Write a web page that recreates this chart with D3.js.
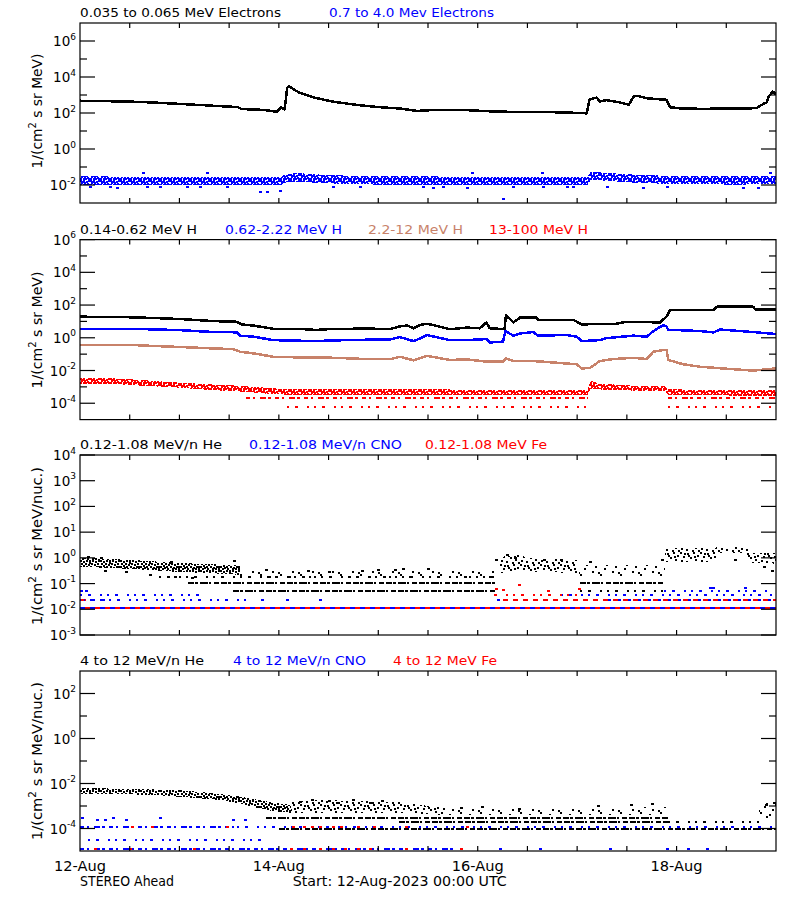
<!DOCTYPE html>
<html><head><meta charset="utf-8">
<script src="https://cdn.jsdelivr.net/npm/d3@7"></script>
<style>
body{margin:0;background:#fff;}
text{font-family:"DejaVu Sans",sans-serif;}
</style></head><body>
<svg id="chart" width="800" height="900" style="background:#fff"></svg>
<script>
// ---------------- DATA (hours since 12-Aug-2023 00:00 UTC) ----------------
const xTickLabels = ["12-Aug", "14-Aug", "16-Aug", "18-Aug"];
const xTickHours = [0, 48, 96, 144];
const footLeft = "STEREO Ahead";
const footMid = "Start: 12-Aug-2023 00:00 UTC";
const unitLabel1 = ["1/(cm", "2", " s sr MeV)"];
const unitLabel2 = ["1/(cm", "2", " s sr MeV/nuc.)"];

// Panel 1
const p1Titles = ["0.035 to 0.065 MeV Electrons", "0.7 to 4.0 Mev Electrons"];
const p1MajorExp = [6, 4, 2, 0, -2];
const p1MinorExp = [5, 3, 1, -1];
const elecLow = [[0,480],[6,455],[12,430],[18,380],[24,320],[30,270],[36,225],[38,218],[39,166],[44,150],[47.5,118],[48.5,200],[49.4,160],[50,2400],[50.4,3200],[52,1800],[53,1350],[56.3,740],[61,430],[65,320],[69.2,245],[73,205],[77.2,178],[81.3,130],[85,145],[93,145],[101,118],[109,115],[117,108],[122.3,96],[123,575],[124,650],[124.7,710],[125.5,440],[127,520],[130,400],[132.5,290],[133.6,810],[134.5,900],[137,650],[141.6,540],[142.4,210],[145,180],[150,170],[155,175],[160,180],[163.3,185],[164.1,245],[164.9,316],[165.8,390],[166.2,800],[166.6,1000],[167.2,1550],[168,1100]];
const elecHighBand = [[0,0.010,0.030],[20,0.010,0.029],[40,0.0098,0.028],[48.5,0.0098,0.028],[49.8,0.014,0.042],[53,0.015,0.045],[58,0.013,0.038],[66,0.011,0.032],[80,0.010,0.030],[100,0.0098,0.029],[122.5,0.0098,0.029],[123.3,0.020,0.055],[127,0.017,0.047],[135,0.013,0.036],[145,0.011,0.031],[160,0.0105,0.030],[168,0.012,0.033]];
const elecHighOut = [[2.4,0.0075],[7.2,0.008],[8.9,0.0072],[16.1,0.0078],[19.3,0.0074],[25.8,0.008],[29,0.0076],[35.4,0.0079],[43.4,0.0043],[45.1,0.0043],[48.3,0.0045],[61.1,0.0078],[67.6,0.0076],[82.9,0.0074],[85.3,0.0068],[87.7,0.0077],[93.3,0.0072],[102.2,0.0016],[104.6,0.0079],[111.8,0.0075],[117.5,0.0078],[119.1,0.0073],[127.1,0.0076],[136,0.0068],[141.6,0.0079],[160.1,0.0072],[163.7,0.0068],[15.3,0.045],[30.6,0.045],[94.5,0.044],[111.4,0.045],[166.6,0.046]];

// Panel 2
const p2Titles = ["0.14-0.62 MeV H", "0.62-2.22 MeV H", "2.2-12 MeV H", "13-100 MeV H"];
const p2MajorExp = [6, 4, 2, 0, -2, -4];
const p2MinorExp = [5, 3, 1, -1, -3];
const hLow = [[0,19.5],[13,17.8],[24,14.1],[32,10.5],[37.8,9.5],[39,6.6],[42,5.5],[46.7,3.5],[53,3.5],[57,3.0],[61,3.5],[69,3.6],[75,3.5],[77.2,5.0],[79,5.6],[80.5,3.8],[82,6.0],[83.7,7.2],[85.3,6.0],[89.3,3.3],[93.3,4.2],[96.5,3.8],[98.1,8.7],[98.9,3.8],[101.4,3.5],[102.5,3.6],[102.8,24],[104.6,8.7],[106.2,17],[110.2,17],[110.6,12.3],[119.1,12.3],[121.1,6.6],[129.5,7.2],[131.9,9.5],[140,8.7],[141.6,20],[142.4,50],[152.9,50],[153.7,79],[162.5,79],[163,55],[168,55]];
const hMid = [[0,3.5],[13,3.5],[24,2.95],[30.6,2.35],[37.8,2.15],[38.6,1.35],[41.8,1.17],[46.7,0.72],[53.1,0.66],[57.1,0.63],[61.1,0.69],[69.2,0.76],[75,0.8],[77.2,1.1],[80.5,0.63],[82.1,0.91],[83.7,1.48],[89.3,0.72],[93.3,0.72],[98.1,0.83],[98.9,0.52],[102.1,0.58],[102.7,2.57],[104.6,1.35],[106.2,1.82],[109.4,2.24],[110.6,1.35],[117.5,1.48],[119.9,1.17],[121.1,0.63],[125.5,0.72],[127.1,0.95],[133.6,1.35],[136.8,1.17],[138.4,2.57],[140.8,6.0],[141.6,4.8],[142,3.1],[149.7,2.57],[152.9,2.15],[154.5,3.2],[162.5,2.24],[168,1.7]];
const hHigh = [[0,0.36],[13,0.36],[16,0.33],[24,0.275],[32,0.224],[37,0.204],[38.6,0.141],[41.8,0.112],[46.7,0.069],[53.1,0.063],[61.1,0.060],[69.2,0.050],[75,0.050],[77.2,0.069],[80.5,0.042],[83.7,0.079],[89.3,0.044],[93.3,0.048],[98.1,0.035],[102.1,0.035],[102.9,0.055],[104.6,0.038],[109.4,0.038],[113.5,0.032],[119.9,0.024],[121.1,0.0135],[123,0.014],[125.5,0.038],[128.7,0.050],[133.6,0.060],[136.8,0.050],[138.4,0.141],[140.8,0.178],[141.6,0.178],[142,0.044],[145.6,0.024],[149.7,0.017],[157.7,0.012],[162.5,0.0098],[168,0.0135]];
const hTopBand = [[0,0.0016,0.0035],[8,0.0015,0.0033],[13,0.00126,0.0028],[24,0.00089,0.0018],[32,0.00063,0.0014],[40,0.0005,0.00112],[47,0.00035,0.0008],[55,0.00032,0.0007],[80,0.00032,0.0007],[100,0.0003,0.00068],[122.5,0.0003,0.00068],[123.3,0.0008,0.0025],[125,0.0007,0.0016],[133,0.0006,0.0012],[141,0.00056,0.0011],[142,0.00032,0.0007],[168,0.00028,0.00063]];
const hTopRowsDense = [[0.00022,40,122.5],[0.00022,142,168]];
const hTopRowsSparse = [[0.000063,50,122.5],[0.000063,142,168]];

// Panel 3
const p3Titles = ["0.12-1.08 MeV/n He", "0.12-1.08 MeV/n CNO", "0.12-1.08 MeV Fe"];
const p3MajorExp = [4, 3, 2, 1, 0, -1, -2, -3];
const p3MinorExp = [];
const p3HeBandDense = [[0,0.45,1.0],[8,0.4,0.9],[14,0.36,0.8],[24,0.28,0.63],[32,0.25,0.56],[38.6,0.22,0.5]];
const p3HeBandMedium = [[101.4,0.25,1.0],[103,0.3,1.2],[106,0.35,1.3],[108,0.3,1.0],[120,0.25,0.8],null,[141.2,0.7,2.3],[153,0.7,2.4],[154,1.5,2.7],[161,1.5,2.7],[162,0.62,1.5],[168,0.6,1.5]];
const p3HeBandSparse = [[38.6,0.16,0.35],[100.6,0.16,0.35],null,[120.5,0.19,0.52],[141.2,0.19,0.52]];
const p3HeRowsDense = [[0.11,26,100.6],[0.052,37,100.6],[0.11,120.7,140.8]];
const p3HeRowsSparse = [[0.18,19,100.6],[0.052,120.7,140.8]];
const p3HeOut = [[2,1.05],[5,0.95],[22,0.7],[37.2,0.75],[45,0.35],[55,0.3],[60,0.28],[68,0.3],[72,0.33],[76,0.33],[78,0.38],[84,0.36],[100.3,0.8],[103,1.3],[105,0.95],[112,0.85],[116,0.85],[123,0.7],[140.5,0.85],[6,0.3],[11,0.28],[17,0.22],[23,0.18],[27,0.17],[158,0.8],[165,0.45],[167,0.3]];
const p3CnoRowsDense = [[0.0115,0,168],[0.024,0,7],[0.024,127,168]];
const p3CnoRowsSparse = [[0.024,7,41],[0.035,0,30],[0.035,116,167],[0.051,141,167]];
const p3CnoPts = [[0.3,0.05],[1.5,0.05],[152,0.07],[152.8,0.07],[160.5,0.07],[44,0.024],[50,0.024],[58,0.024],[101,0.024],[110,0.024]];
const p3FeRowsDense = [[0.0115,0,168],[0.024,0,1.5],[0.024,101,168]];
const p3FeRowsSparse = [[0.035,99,120]];
const p3FePts = [[100.5,0.06],[102,0.055],[106,0.085],[113,0.05],[120.4,0.06],[0.5,0.024]];

// Panel 4
const p4Titles = ["4 to 12 MeV/n He", "4 to 12 MeV/n CNO", "4 to 12 MeV Fe"];
const p4MajorExp = [2, 0, -2, -4];
const p4MinorExp = [1, -1, -3];
const p4HeBandDense = [[0,0.0033,0.0062],[13,0.0033,0.0058],[24,0.0026,0.005],[33,0.0019,0.0036],[38.6,0.0013,0.0026],[45,0.00066,0.0016],[51,0.00047,0.0011]];
const p4HeBandMedium = [[51,0.0005,0.0017],[60,0.0005,0.0018],[77,0.0005,0.0015],[88,0.0004,0.0008]];
const p4HeBandSparse = [[88,0.0004,0.0008],[121,0.0004,0.0008],[142,0.0004,0.0009],null,[164,0.0003,0.0013],[168,0.0003,0.0013]];
const p4HeRowsDense = [[0.00028,45,142],[0.0002,77,142],[0.0001,48,168]];
const p4HeRowsSparse = [[0.0002,142,164]];
const p4HeOut = [[53,0.0015],[56,0.0019],[60,0.0017],[62,0.0013],[66,0.0018],[70,0.0014],[73,0.0016],[92,0.0008],[97,0.0009],[106,0.0007],[125,0.001],[133,0.0011],[138,0.0012],[165.5,0.0011],[167.5,0.0014]];
const p4CnoRowsDense = [[0.000012,0,91],[0.00012,0,38]];
const p4CnoRowsSparse = [[0.00012,38,168],[0.00003,2,45]];
const p4CnoPts = [[0.4,0.00028],[4,0.00025],[6,0.00025],[8,0.00028],[11,0.00025],[19.3,0.00028],[37,0.00024],[39.8,0.00024],[101.4,0.000012],[111,0.000012],[127.9,0.000012],[141.6,0.000012],[146.8,0.000012],[151.3,0.000012]];
const p4FePts = [[12.5,0.00012],[17.3,0.00012],[35.4,0.00012],[51.5,0.00012],[54,0.00012],[56,0.00012],[58,0.00012],[61,0.00012],[63,0.00012],[67,0.00012],[70.9,0.00012],[78.8,0.00012],[93.3,0.00012],[3.6,0.000012],[12,0.000012],[27.4,0.000012],[51,0.000012],[54,0.000012],[58,0.000012],[61,0.000012],[64,0.000012],[67,0.000012],[70,0.000012],[78.8,0.000012],[92,0.000012]];

// ---------------- DRAWING ----------------
const svg = d3.select("#chart");
const defs = svg.append("defs");
const X0 = 80, X1 = 776, PH = 180;
const t0 = new Date(Date.UTC(2023, 7, 12));
const t1 = new Date(Date.UTC(2023, 7, 19));
const T = h => new Date(t0.getTime() + h * 3600000);
const x = d3.scaleUtc().domain([t0, t1]).range([X0, X1]);
const colors = {black: "#000000", blue: "#0000ff", red: "#ff0000", tan: "#c8826a"};
// speckle textures (hand-placed 2x2 dots in a tile)
const tiles = {
  heavy: {w: 10, h: 6, r: [[0,0],[3,0],[6,1],[8,0],[1,2],[4,2],[7,3],[0,4],[3,4],[5,4],[8,4],[2,1]]},
  dense: {w: 20, h: 10, r: [[0,0],[3,1],[6,0],[9,2],[12,0],[15,1],[18,0],[1,3],[5,3],[8,4],[11,3],[14,4],[17,3],[0,6],[3,5],[6,6],[10,6],[13,7],[16,6],[18,6],[2,8],[7,8],[12,8],[15,8],[18,8],[9,0],[4,7]]},
  medium: {w: 20, h: 12, r: [[0,0],[7,1],[13,0],[17,3],[3,4],[10,5],[15,7],[1,8],[6,9],[12,10],[18,10],[8,3],[4,1],[14,4]]},
  sparse: {w: 20, h: 14, r: [[0,0],[9,2],[15,6],[4,8],[12,11],[18,12],[6,4]]}
};
for (const [cn, cv] of Object.entries(colors)) {
  for (const [tn, tv] of Object.entries(tiles)) {
    const p = defs.append("pattern").attr("id", `pat-${cn}-${tn}`)
      .attr("patternUnits", "userSpaceOnUse").attr("width", tv.w).attr("height", tv.h);
    p.selectAll("rect").data(tv.r).join("rect")
      .attr("x", d => d[0]).attr("y", d => d[1]).attr("width", 2).attr("height", 2).attr("fill", cv);
  }
}

function drawLine(m, y, data, c) {
  const ln = d3.line().x(d => x(T(d[0]))).y(d => y(d[1]));
  m.append("path").datum(data).attr("d", ln).attr("fill", "none")
    .attr("stroke", colors[c]).attr("stroke-width", 2.5).attr("stroke-linejoin", "round");
}
function drawBand(m, y, data, c, tile) {
  const ar = d3.area().defined(d => d !== null).x(d => x(T(d[0]))).y0(d => y(d[1])).y1(d => y(d[2]));
  m.append("path").datum(data).attr("d", ar).attr("fill", `url(#pat-${c}-${tile})`);
}
function drawRows(m, y, rows, c, dash, off) {
  m.append("g").selectAll("line").data(rows).join("line")
    .attr("x1", d => x(T(d[1]))).attr("x2", d => x(T(d[2])))
    .attr("y1", d => y(d[0])).attr("y2", d => y(d[0]))
    .attr("stroke", colors[c]).attr("stroke-width", 2)
    .attr("stroke-dasharray", dash).attr("stroke-dashoffset", off);
}
function drawPts(m, y, pts, c) {
  m.append("g").selectAll("rect").data(pts).join("rect")
    .attr("x", d => x(T(d[0])) - 1).attr("y", d => y(d[1]) - 1)
    .attr("width", 3).attr("height", 2).attr("fill", colors[c]);
}
const DENSE_ROW = "6 1 3 2 8 1 2 3 5 2";
const MID_ROW = "4 3 2 5 6 2 3 4";
const SPARSE_ROW = "2 6 3 9 2 5";

const panels = [
  {top: 23, domain: [1e-3, 1e7], majors: p1MajorExp, minors: p1MinorExp, titles: p1Titles,
   titleX: [80, 329], titleW: [201, 165], titleC: ["black", "blue"], unit: unitLabel1, unitLen: 115, unitY: 111,
   draw: (m, y) => {
     drawLine(m, y, elecLow, "black");
     drawBand(m, y, elecHighBand, "blue", "heavy");
     drawPts(m, y, elecHighOut, "blue");
   }},
  {top: 239.6, domain: [1e-5, 1e6], majors: p2MajorExp, minors: p2MinorExp, titles: p2Titles,
   titleX: [80, 225, 368, 489], titleW: [117, 117, 95, 99], titleC: ["black", "blue", "tan", "red"], unit: unitLabel1, unitLen: 117, unitY: 330,
   draw: (m, y) => {
     drawLine(m, y, hLow, "black");
     drawLine(m, y, hMid, "blue");
     drawLine(m, y, hHigh, "tan");
     drawBand(m, y, hTopBand, "red", "heavy");
     drawRows(m, y, hTopRowsDense, "red", MID_ROW, 0);
     drawRows(m, y, hTopRowsSparse, "red", SPARSE_ROW, 0);
   }},
  {top: 455, domain: [1e-3, 1e4], majors: p3MajorExp, minors: p3MinorExp, titles: p3Titles,
   titleX: [80, 249, 425], titleW: [142, 153, 122], titleC: ["black", "blue", "red"], unit: unitLabel2, unitLen: 158, unitY: 546,
   draw: (m, y) => {
     drawBand(m, y, p3HeBandDense, "black", "dense");
     drawBand(m, y, p3HeBandMedium, "black", "medium");
     drawBand(m, y, p3HeBandSparse, "black", "sparse");
     drawRows(m, y, p3HeRowsDense, "black", DENSE_ROW, 0);
     drawRows(m, y, p3HeRowsSparse, "black", SPARSE_ROW, 0);
     drawPts(m, y, p3HeOut, "black");
     drawRows(m, y, p3CnoRowsDense, "blue", "5 5", 0);
     drawRows(m, y, p3CnoRowsSparse, "blue", SPARSE_ROW, 0);
     drawPts(m, y, p3CnoPts, "blue");
     drawRows(m, y, p3FeRowsDense, "red", "5 5", 5);
     drawRows(m, y, p3FeRowsSparse, "red", SPARSE_ROW, 4);
     drawPts(m, y, p3FePts, "red");
   }},
  {top: 671, domain: [1e-5, 1e3], majors: p4MajorExp, minors: p4MinorExp, titles: p4Titles,
   titleX: [80, 233, 393], titleW: [124, 133, 104], titleC: ["black", "blue", "red"], unit: unitLabel2, unitLen: 158, unitY: 761,
   draw: (m, y) => {
     drawBand(m, y, p4HeBandDense, "black", "dense");
     drawBand(m, y, p4HeBandMedium, "black", "medium");
     drawBand(m, y, p4HeBandSparse, "black", "sparse");
     drawRows(m, y, p4HeRowsDense, "black", DENSE_ROW, 0);
     drawRows(m, y, p4HeRowsSparse, "black", SPARSE_ROW, 0);
     drawPts(m, y, p4HeOut, "black");
     drawRows(m, y, p4CnoRowsDense, "blue", MID_ROW, 0);
     drawRows(m, y, p4CnoRowsSparse, "blue", SPARSE_ROW, 0);
     drawPts(m, y, p4CnoPts, "blue");
     drawPts(m, y, p4FePts, "red");
   }}
];

const twelveH = d3.range(12, 168, 12);

panels.forEach((cfg, i) => {
  const top = cfg.top, bottom = top + PH;
  const y = d3.scaleLog().domain(cfg.domain).range([bottom, top]);
  const g = svg.append("g");
  defs.append("clipPath").attr("id", "clip" + i).append("rect")
    .attr("x", X0).attr("y", top).attr("width", X1 - X0).attr("height", PH);
  const m = g.append("g").attr("clip-path", `url(#clip${i})`).attr("shape-rendering", "crispEdges");
  cfg.draw(m, y);

  g.append("rect").attr("x", X0).attr("y", top).attr("width", X1 - X0).attr("height", PH)
    .attr("fill", "none").attr("stroke", "#000").attr("stroke-width", 1.2);

  const ax = g.append("g").attr("stroke", "#000").attr("stroke-width", 1.2);
  twelveH.forEach(h => {
    const xx = x(T(h));
    ax.append("line").attr("x1", xx).attr("x2", xx).attr("y1", bottom).attr("y2", bottom - 5);
    ax.append("line").attr("x1", xx).attr("x2", xx).attr("y1", top).attr("y2", top + 5);
  });
  cfg.majors.forEach(e => {
    const yy = y(Math.pow(10, e));
    ax.append("line").attr("x1", X0).attr("x2", X0 + 15).attr("y1", yy).attr("y2", yy);
    ax.append("line").attr("x1", X1).attr("x2", X1 - 15).attr("y1", yy).attr("y2", yy);
    const t = g.append("text").attr("x", 76).attr("y", yy + 5).attr("text-anchor", "end")
      .attr("font-size", 13.5).attr("fill", "#000");
    t.append("tspan").text("10");
    t.append("tspan").attr("dy", -6.5).attr("font-size", 9).text(String(e));
  });
  cfg.minors.forEach(e => {
    const yy = y(Math.pow(10, e));
    ax.append("line").attr("x1", X0).attr("x2", X0 + 7).attr("y1", yy).attr("y2", yy);
    ax.append("line").attr("x1", X1).attr("x2", X1 - 7).attr("y1", yy).attr("y2", yy);
  });

  cfg.titles.forEach((s, k) => {
    g.append("text").attr("x", cfg.titleX[k]).attr("y", top - 6)
      .attr("fill", colors[cfg.titleC[k]]).attr("font-size", 13)
      .attr("textLength", cfg.titleW[k]).attr("lengthAdjust", "spacingAndGlyphs").text(s);
  });

  const ul = g.append("text").attr("transform", `translate(41.5,${cfg.unitY}) rotate(-90)`)
    .attr("text-anchor", "middle").attr("font-size", 14).attr("fill", "#000")
    .attr("textLength", cfg.unitLen).attr("lengthAdjust", "spacingAndGlyphs");
  ul.append("tspan").text(cfg.unit[0]);
  ul.append("tspan").attr("dy", -6).attr("font-size", 10).text(cfg.unit[1]);
  ul.append("tspan").attr("dy", 6).text(cfg.unit[2]);
});

const bottomY = 871;
xTickLabels.forEach((s, k) => {
  svg.append("text").attr("x", x(T(xTickHours[k]))).attr("y", bottomY).attr("text-anchor", "middle")
    .attr("font-size", 14).attr("fill", "#000").attr("textLength", 52).attr("lengthAdjust", "spacingAndGlyphs").text(s);
});
svg.append("text").attr("x", 80).attr("y", 885.5).attr("font-size", 14).attr("fill", "#000")
  .attr("textLength", 94).attr("lengthAdjust", "spacingAndGlyphs").text(footLeft);
svg.append("text").attr("x", 292.7).attr("y", 885.5).attr("font-size", 14).attr("fill", "#000")
  .attr("textLength", 214).attr("lengthAdjust", "spacingAndGlyphs").text(footMid);
</script></body></html>
